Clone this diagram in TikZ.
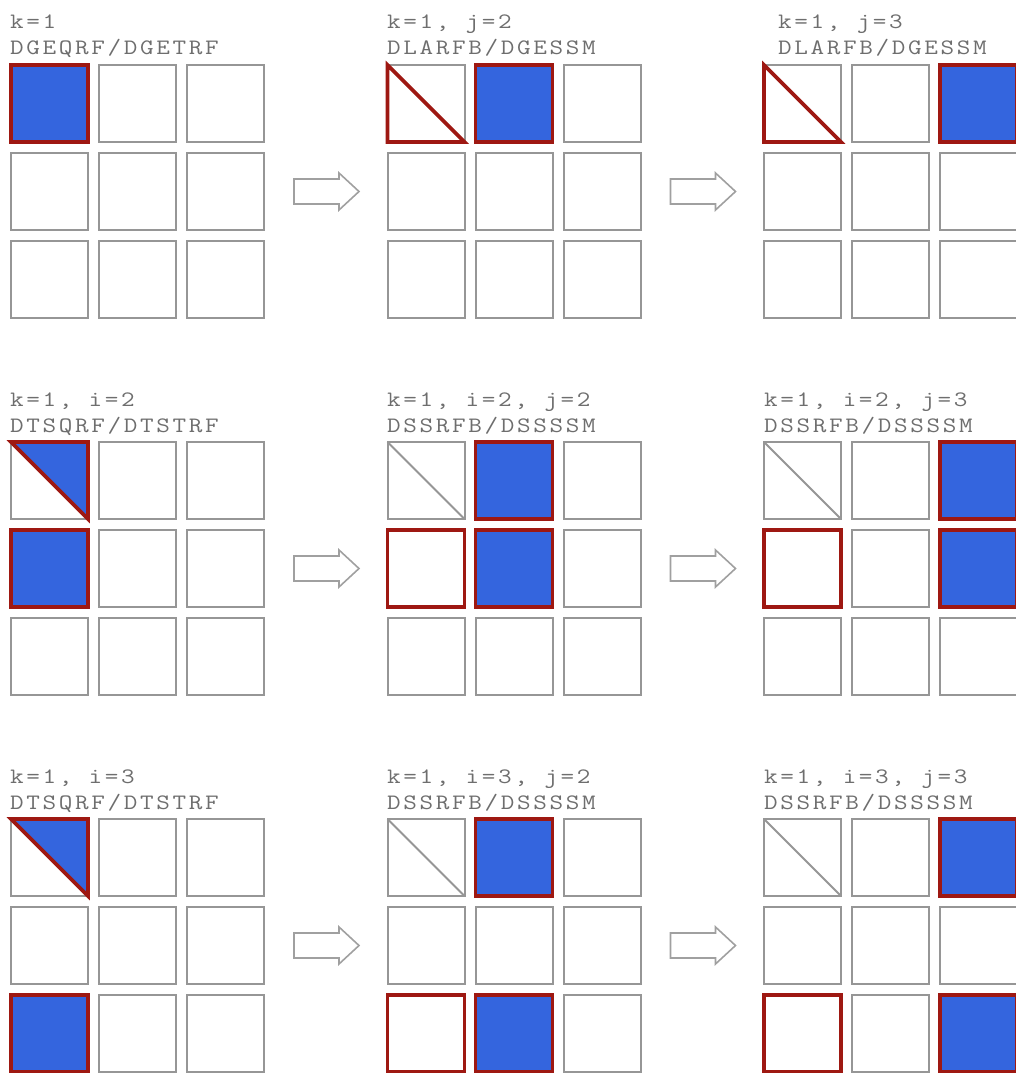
\documentclass[tikz,border=0pt]{standalone}
\usepackage{fontspec}
\newfontfamily\labfont[FakeStretch=1.2,LetterSpace=12]{Latin Modern Mono}
\definecolor{cellgray}{RGB}{150,150,150}
\definecolor{cellred}{RGB}{158,24,18}
\definecolor{cellblue}{RGB}{52,101,222}
\definecolor{textgray}{RGB}{110,110,110}
\definecolor{arrowgray}{RGB}{160,160,160}
\tikzset{
  cellbox/.style={draw=cellgray, line width=2pt, minimum size=77pt, inner sep=0pt, outer sep=0pt, fill=white},
  bluered/.style={fill=cellblue, draw=cellred, line width=3.6pt},
  redline/.style={draw=cellred, line width=3.6pt},
  grayline/.style={draw=cellgray, line width=2pt},
  lab/.style={anchor=base west, inner sep=0pt, text=textgray, font=\labfont\fontsize{22}{24}\selectfont},
  blockarrow/.style={draw=arrowgray, line width=1.6pt, fill=white, line join=miter}
}
\begin{document}
\begin{tikzpicture}[x=1pt,y=-1pt]
\useasboundingbox (0,0) rectangle (1015,1073);
% cells
\foreach \b in {0,1,2}{
  \foreach \g in {0,1,2}{
    \foreach \r in {0,1,2}{
      \foreach \c in {0,1,2}{
        \node[cellbox] (c-\b-\g-\r-\c) at ({11+\g*376.5+\c*88+38.5},{65+\b*377+\r*88+38.5}) {};
      }
    }
  }
}
% block arrows
\foreach \b in {0,1,2}{
  \foreach \g in {0,1}{
    \pgfmathsetmacro{\ax}{294+\g*376.5}
    \pgfmathsetmacro{\ay}{191.5+\b*377}
    \draw[blockarrow] (\ax,\ay-12.5) -- (\ax+45,\ay-12.5) -- (\ax+45,\ay-18.5) -- (\ax+65,\ay) -- (\ax+45,\ay+18.5) -- (\ax+45,\ay+12.5) -- (\ax,\ay+12.5) -- cycle;
  }
}
% ---- block 1 ----
\filldraw[bluered] (c-0-0-0-0.north west) rectangle (c-0-0-0-0.south east);
\draw[redline] (c-0-1-0-0.north west) -- (c-0-1-0-0.south west) -- (c-0-1-0-0.south east) -- cycle;
\filldraw[bluered] (c-0-1-0-1.north west) rectangle (c-0-1-0-1.south east);
\draw[redline] (c-0-2-0-0.north west) -- (c-0-2-0-0.south west) -- (c-0-2-0-0.south east) -- cycle;
\filldraw[bluered] (c-0-2-0-2.north west) rectangle (c-0-2-0-2.south east);
% ---- block 2 ----
\filldraw[bluered] (c-1-0-0-0.north west) -- (c-1-0-0-0.north east) -- (c-1-0-0-0.south east) -- cycle;
\filldraw[bluered] (c-1-0-1-0.north west) rectangle (c-1-0-1-0.south east);
\draw[grayline] (c-1-1-0-0.north west) -- (c-1-1-0-0.south east);
\filldraw[bluered] (c-1-1-0-1.north west) rectangle (c-1-1-0-1.south east);
\draw[redline] (c-1-1-1-0.north west) rectangle (c-1-1-1-0.south east);
\filldraw[bluered] (c-1-1-1-1.north west) rectangle (c-1-1-1-1.south east);
\draw[grayline] (c-1-2-0-0.north west) -- (c-1-2-0-0.south east);
\filldraw[bluered] (c-1-2-0-2.north west) rectangle (c-1-2-0-2.south east);
\draw[redline] (c-1-2-1-0.north west) rectangle (c-1-2-1-0.south east);
\filldraw[bluered] (c-1-2-1-2.north west) rectangle (c-1-2-1-2.south east);
% ---- block 3 ----
\filldraw[bluered] (c-2-0-0-0.north west) -- (c-2-0-0-0.north east) -- (c-2-0-0-0.south east) -- cycle;
\filldraw[bluered] (c-2-0-2-0.north west) rectangle (c-2-0-2-0.south east);
\draw[grayline] (c-2-1-0-0.north west) -- (c-2-1-0-0.south east);
\filldraw[bluered] (c-2-1-0-1.north west) rectangle (c-2-1-0-1.south east);
\draw[redline] (c-2-1-2-0.north west) rectangle (c-2-1-2-0.south east);
\filldraw[bluered] (c-2-1-2-1.north west) rectangle (c-2-1-2-1.south east);
\draw[grayline] (c-2-2-0-0.north west) -- (c-2-2-0-0.south east);
\filldraw[bluered] (c-2-2-0-2.north west) rectangle (c-2-2-0-2.south east);
\draw[redline] (c-2-2-2-0.north west) rectangle (c-2-2-2-0.south east);
\filldraw[bluered] (c-2-2-2-2.north west) rectangle (c-2-2-2-2.south east);
% labels
\node[lab] (l-0-0a) at (10,29) {k=1};
\node[lab] (l-0-0b) at (10,55) {DGEQRF/DGETRF};
\node[lab] (l-0-1a) at (387,29) {k=1, j=2};
\node[lab] (l-0-1b) at (387,55) {DLARFB/DGESSM};
\node[lab] (l-0-2a) at (778,29) {k=1, j=3};
\node[lab] (l-0-2b) at (778,55) {DLARFB/DGESSM};
\node[lab] (l-1-0a) at (10,406) {k=1, i=2};
\node[lab] (l-1-0b) at (10,432) {DTSQRF/DTSTRF};
\node[lab] (l-1-1a) at (387,406) {k=1, i=2, j=2};
\node[lab] (l-1-1b) at (387,432) {DSSRFB/DSSSSM};
\node[lab] (l-1-2a) at (764,406) {k=1, i=2, j=3};
\node[lab] (l-1-2b) at (764,432) {DSSRFB/DSSSSM};
\node[lab] (l-2-0a) at (10,783) {k=1, i=3};
\node[lab] (l-2-0b) at (10,809) {DTSQRF/DTSTRF};
\node[lab] (l-2-1a) at (387,783) {k=1, i=3, j=2};
\node[lab] (l-2-1b) at (387,809) {DSSRFB/DSSSSM};
\node[lab] (l-2-2a) at (764,783) {k=1, i=3, j=3};
\node[lab] (l-2-2b) at (764,809) {DSSRFB/DSSSSM};
\end{tikzpicture}
\end{document}
